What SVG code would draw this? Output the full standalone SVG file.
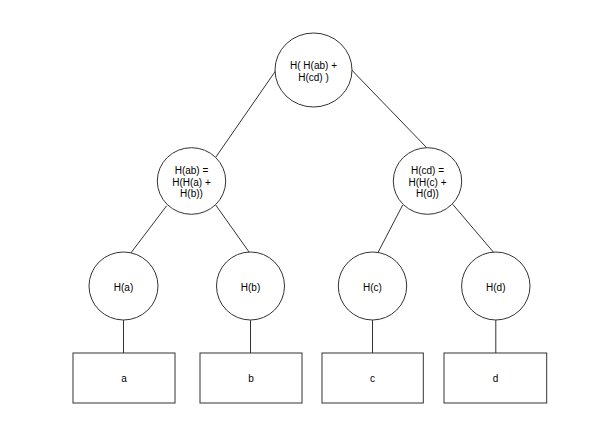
<svg xmlns="http://www.w3.org/2000/svg" width="593" height="425" viewBox="0 0 593 425">
<style>
.n{fill:#fff;stroke:#333;stroke-width:1}
.e{stroke:#333;stroke-width:1;fill:none}
text{font-family:"Liberation Sans",Arial,sans-serif;font-size:10px;fill:#000;text-anchor:middle}
</style>
<rect width="593" height="425" fill="#fff"/>
<g id="connectors">
<line class="e" x1="275.7" y1="70.7" x2="215.7" y2="157.3"/>
<line class="e" x1="351.7" y1="70" x2="426.7" y2="147.7"/>
<line class="e" x1="166.7" y1="205.7" x2="129.3" y2="255"/>
<line class="e" x1="215.7" y1="205" x2="250.7" y2="254.3"/>
<line class="e" x1="402.7" y1="205" x2="376.7" y2="255"/>
<line class="e" x1="452.7" y1="204.3" x2="495" y2="254"/>
<line class="e" x1="123.5" y1="320" x2="123.5" y2="353"/>
<line class="e" x1="250.5" y1="320" x2="250.5" y2="353"/>
<line class="e" x1="372.5" y1="320" x2="372.5" y2="353"/>
<line class="e" x1="495.8" y1="320" x2="495.8" y2="353"/>
</g>
<g id="root">
<ellipse class="n" cx="313.5" cy="70" rx="38.5" ry="37"/>
<text x="313.5" y="68.5">H( H(ab) +</text>
<text x="313.5" y="80.5">H(cd) )</text>
</g>
<g id="hab">
<ellipse class="n" cx="191.5" cy="181" rx="34.2" ry="33.3"/>
<text x="191.5" y="173.5">H(ab) =</text>
<text x="191.5" y="185.5">H(H(a) +</text>
<text x="191.5" y="197">H(b))</text>
</g>
<g id="hcd">
<ellipse class="n" cx="427.5" cy="181" rx="34.2" ry="33.3"/>
<text x="427.5" y="173.5">H(cd) =</text>
<text x="427.5" y="185.5">H(H(c) +</text>
<text x="427.5" y="197">H(d))</text>
</g>
<g id="ha">
<ellipse class="n" cx="123.5" cy="286" rx="34.5" ry="34"/>
<text x="123.5" y="291">H(a)</text>
</g>
<g id="hb">
<ellipse class="n" cx="250.5" cy="286" rx="34" ry="34"/>
<text x="250.5" y="291">H(b)</text>
</g>
<g id="hc">
<ellipse class="n" cx="372.5" cy="286" rx="34.2" ry="34"/>
<text x="372.5" y="291">H(c)</text>
</g>
<g id="hd">
<ellipse class="n" cx="495.8" cy="286" rx="34.2" ry="34"/>
<text x="495.8" y="291">H(d)</text>
</g>
<g id="a">
<rect class="n" x="73" y="353" width="102" height="50"/>
<text x="124" y="382">a</text>
</g>
<g id="b">
<rect class="n" x="200" y="353" width="102" height="50"/>
<text x="251" y="382">b</text>
</g>
<g id="c">
<rect class="n" x="322" y="353" width="101.3" height="50"/>
<text x="372.5" y="382">c</text>
</g>
<g id="d">
<rect class="n" x="444" y="353" width="102.7" height="50"/>
<text x="495.5" y="382">d</text>
</g>
</svg>
